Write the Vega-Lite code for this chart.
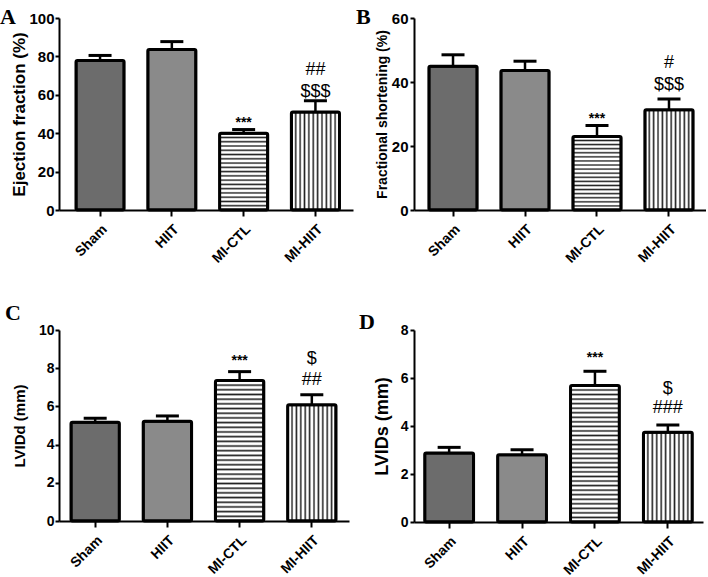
{
  "$schema": "https://vega.github.io/schema/vega-lite/v6.json",
  "background": "white",
  "padding": {"left": 0, "top": 6, "right": 0, "bottom": 0},
  "datasets": {
    "A": [
      {"group": "Sham", "value": 77.9, "upper": 80.5, "star": "", "sig": ""},
      {"group": "HIIT", "value": 83.6, "upper": 87.7, "star": "", "sig": ""},
      {"group": "MI-CTL", "value": 40.0, "upper": 41.9, "star": "***", "sig": ""},
      {"group": "MI-HIIT", "value": 51.1, "upper": 56.9, "star": "", "sig": "##|$$$"}
    ],
    "B": [
      {"group": "Sham", "value": 44.9, "upper": 48.5, "star": "", "sig": ""},
      {"group": "HIIT", "value": 43.6, "upper": 46.5, "star": "", "sig": ""},
      {"group": "MI-CTL", "value": 23.0, "upper": 26.4, "star": "***", "sig": ""},
      {"group": "MI-HIIT", "value": 31.3, "upper": 34.7, "star": "", "sig": "#|$$$"}
    ],
    "C": [
      {"group": "Sham", "value": 5.17, "upper": 5.38, "star": "", "sig": ""},
      {"group": "HIIT", "value": 5.22, "upper": 5.5, "star": "", "sig": ""},
      {"group": "MI-CTL", "value": 7.36, "upper": 7.82, "star": "***", "sig": ""},
      {"group": "MI-HIIT", "value": 6.09, "upper": 6.61, "star": "", "sig": "$|##"}
    ],
    "D": [
      {"group": "Sham", "value": 2.87, "upper": 3.11, "star": "", "sig": ""},
      {"group": "HIIT", "value": 2.8, "upper": 3.01, "star": "", "sig": ""},
      {"group": "MI-CTL", "value": 5.69, "upper": 6.28, "star": "***", "sig": ""},
      {"group": "MI-HIIT", "value": 3.74, "upper": 4.04, "star": "", "sig": "$|###"}
    ]
  },
  "columns": 2,
  "align": "each",
  "spacing": {"row": 36, "column": 3},
  "concat": [
        {
          "data": {"name": "A"},
          "width": 294, "height": 192,
          "title": {"text": "A", "font": "Liberation Serif", "fontSize": 22, "fontWeight": "bold", "color": "black", "anchor": "start", "frame": "group", "dx": -59, "offset": -18},
          "encoding": {
            "x": {"field": "group", "type": "nominal", "sort": null, "title": null,
                  "scale": {"domain": ["Sham", "HIIT", "MI-CTL", "MI-HIIT"], "paddingInner": 0.33, "paddingOuter": 0.2125, "align": 0.557}}
          },
          "layer": [
            {"mark": {"type": "bar", "stroke": "black", "strokeWidth": 3, "cornerRadius": 1.5},
             "encoding": {"y": {"field": "value", "type": "quantitative", "scale": {"domain": [0, 100]},
                                "axis": {"title": "Ejection fraction (%)", "values": [0, 20, 40, 60, 80, 100], "tickCount": 20, "format": "d", "titleFontSize": 17, "labelFontSize": 15, "titleX": -31, "labelPadding": 1}},
                          "fill": {"condition": [
                            {"test": "datum.group === 'Sham'", "value": "#6c6c6c"},
                            {"test": "datum.group === 'HIIT'", "value": "#8a8a8a"},
                            {"test": "datum.group === 'MI-CTL'", "value": {"gradient": "linear", "x1": 0, "y1": 0, "x2": 0, "y2": 1, "stops": [
        {"offset": 0, "color": "#222"}, {"offset": 0.0194, "color": "#fff"}, {"offset": 0.0361, "color": "#fff"},
        {"offset": 0.0556, "color": "#222"}, {"offset": 0.075, "color": "#fff"}, {"offset": 0.0917, "color": "#fff"},
        {"offset": 0.1111, "color": "#222"}, {"offset": 0.1305, "color": "#fff"}, {"offset": 0.1472, "color": "#fff"},
        {"offset": 0.1667, "color": "#222"}, {"offset": 0.1861, "color": "#fff"}, {"offset": 0.2028, "color": "#fff"},
        {"offset": 0.2222, "color": "#222"}, {"offset": 0.2416, "color": "#fff"}, {"offset": 0.2583, "color": "#fff"},
        {"offset": 0.2778, "color": "#222"}, {"offset": 0.2972, "color": "#fff"}, {"offset": 0.3139, "color": "#fff"},
        {"offset": 0.3333, "color": "#222"}, {"offset": 0.3527, "color": "#fff"}, {"offset": 0.3694, "color": "#fff"},
        {"offset": 0.3889, "color": "#222"}, {"offset": 0.4083, "color": "#fff"}, {"offset": 0.425, "color": "#fff"},
        {"offset": 0.4444, "color": "#222"}, {"offset": 0.4638, "color": "#fff"}, {"offset": 0.4805, "color": "#fff"},
        {"offset": 0.5, "color": "#222"}, {"offset": 0.5194, "color": "#fff"}, {"offset": 0.5361, "color": "#fff"},
        {"offset": 0.5556, "color": "#222"}, {"offset": 0.575, "color": "#fff"}, {"offset": 0.5917, "color": "#fff"},
        {"offset": 0.6111, "color": "#222"}, {"offset": 0.6305, "color": "#fff"}, {"offset": 0.6472, "color": "#fff"},
        {"offset": 0.6667, "color": "#222"}, {"offset": 0.6861, "color": "#fff"}, {"offset": 0.7028, "color": "#fff"},
        {"offset": 0.7222, "color": "#222"}, {"offset": 0.7416, "color": "#fff"}, {"offset": 0.7583, "color": "#fff"},
        {"offset": 0.7778, "color": "#222"}, {"offset": 0.7972, "color": "#fff"}, {"offset": 0.8139, "color": "#fff"},
        {"offset": 0.8333, "color": "#222"}, {"offset": 0.8527, "color": "#fff"}, {"offset": 0.8694, "color": "#fff"},
        {"offset": 0.8889, "color": "#222"}, {"offset": 0.9083, "color": "#fff"}, {"offset": 0.925, "color": "#fff"},
        {"offset": 0.9444, "color": "#222"}, {"offset": 0.9638, "color": "#fff"}, {"offset": 0.9805, "color": "#fff"},
        {"offset": 1, "color": "#222"}]}},
                            {"test": "datum.group === 'MI-HIIT'", "value": {"gradient": "linear", "x1": 0, "y1": 0, "x2": 1, "y2": 0, "stops": [
        {"offset": 0, "color": "#222"}, {"offset": 0.0318, "color": "#fff"}, {"offset": 0.0591, "color": "#fff"},
        {"offset": 0.0909, "color": "#222"}, {"offset": 0.1227, "color": "#fff"}, {"offset": 0.15, "color": "#fff"},
        {"offset": 0.1818, "color": "#222"}, {"offset": 0.2136, "color": "#fff"}, {"offset": 0.2409, "color": "#fff"},
        {"offset": 0.2727, "color": "#222"}, {"offset": 0.3045, "color": "#fff"}, {"offset": 0.3318, "color": "#fff"},
        {"offset": 0.3636, "color": "#222"}, {"offset": 0.3954, "color": "#fff"}, {"offset": 0.4227, "color": "#fff"},
        {"offset": 0.4545, "color": "#222"}, {"offset": 0.4863, "color": "#fff"}, {"offset": 0.5136, "color": "#fff"},
        {"offset": 0.5455, "color": "#222"}, {"offset": 0.5773, "color": "#fff"}, {"offset": 0.6046, "color": "#fff"},
        {"offset": 0.6364, "color": "#222"}, {"offset": 0.6682, "color": "#fff"}, {"offset": 0.6955, "color": "#fff"},
        {"offset": 0.7273, "color": "#222"}, {"offset": 0.7591, "color": "#fff"}, {"offset": 0.7864, "color": "#fff"},
        {"offset": 0.8182, "color": "#222"}, {"offset": 0.85, "color": "#fff"}, {"offset": 0.8773, "color": "#fff"},
        {"offset": 0.9091, "color": "#222"}, {"offset": 0.9409, "color": "#fff"}, {"offset": 0.9682, "color": "#fff"},
        {"offset": 1, "color": "#222"}]}}
                          ], "value": "white"}}},
            {"mark": {"type": "rule", "color": "black", "strokeWidth": 2.5},
             "encoding": {"y": {"field": "value", "type": "quantitative"}, "y2": {"field": "upper"}}},
            {"mark": {"type": "tick", "color": "black", "thickness": 3, "size": 23, "opacity": 1},
             "encoding": {"y": {"field": "upper", "type": "quantitative"}}},
            {"transform": [{"filter": "datum.star !== ''"}],
             "mark": {"type": "text", "font": "Liberation Sans", "fontSize": 14, "fontWeight": "bold", "baseline": "alphabetic", "dy": -3, "color": "black"},
             "encoding": {"y": {"field": "upper", "type": "quantitative"}, "text": {"field": "star"}}},
            {"transform": [{"filter": "datum.sig !== ''"}],
             "mark": {"type": "text", "font": "Liberation Sans", "fontSize": 18, "baseline": "alphabetic", "lineBreak": "|", "lineHeight": 22, "dy": -26, "color": "black"},
             "encoding": {"y": {"field": "upper", "type": "quantitative"}, "text": {"field": "sig"}}}
          ]
        },
        {
          "data": {"name": "B"},
          "width": 292, "height": 192,
          "title": {"text": "B", "font": "Liberation Serif", "fontSize": 22, "fontWeight": "bold", "color": "black", "anchor": "start", "frame": "group", "dx": -58, "offset": -18},
          "encoding": {
            "x": {"field": "group", "type": "nominal", "sort": null, "title": null,
                  "scale": {"domain": ["Sham", "HIIT", "MI-CTL", "MI-HIIT"], "paddingInner": 0.33, "paddingOuter": 0.193, "align": 0.536}}
          },
          "layer": [
            {"mark": {"type": "bar", "stroke": "black", "strokeWidth": 3, "cornerRadius": 1.5},
             "encoding": {"y": {"field": "value", "type": "quantitative", "scale": {"domain": [0, 60]},
                                "axis": {"title": "Fractional shortening (%)", "values": [0, 20, 40, 60], "tickCount": 20, "format": "d", "titleFontSize": 14, "labelFontSize": 15, "titleX": -25, "labelPadding": 2}},
                          "fill": {"condition": [
                            {"test": "datum.group === 'Sham'", "value": "#6c6c6c"},
                            {"test": "datum.group === 'HIIT'", "value": "#8a8a8a"},
                            {"test": "datum.group === 'MI-CTL'", "value": {"gradient": "linear", "x1": 0, "y1": 0, "x2": 0, "y2": 1, "stops": [
        {"offset": 0, "color": "#222"}, {"offset": 0.0194, "color": "#fff"}, {"offset": 0.0361, "color": "#fff"},
        {"offset": 0.0556, "color": "#222"}, {"offset": 0.075, "color": "#fff"}, {"offset": 0.0917, "color": "#fff"},
        {"offset": 0.1111, "color": "#222"}, {"offset": 0.1305, "color": "#fff"}, {"offset": 0.1472, "color": "#fff"},
        {"offset": 0.1667, "color": "#222"}, {"offset": 0.1861, "color": "#fff"}, {"offset": 0.2028, "color": "#fff"},
        {"offset": 0.2222, "color": "#222"}, {"offset": 0.2416, "color": "#fff"}, {"offset": 0.2583, "color": "#fff"},
        {"offset": 0.2778, "color": "#222"}, {"offset": 0.2972, "color": "#fff"}, {"offset": 0.3139, "color": "#fff"},
        {"offset": 0.3333, "color": "#222"}, {"offset": 0.3527, "color": "#fff"}, {"offset": 0.3694, "color": "#fff"},
        {"offset": 0.3889, "color": "#222"}, {"offset": 0.4083, "color": "#fff"}, {"offset": 0.425, "color": "#fff"},
        {"offset": 0.4444, "color": "#222"}, {"offset": 0.4638, "color": "#fff"}, {"offset": 0.4805, "color": "#fff"},
        {"offset": 0.5, "color": "#222"}, {"offset": 0.5194, "color": "#fff"}, {"offset": 0.5361, "color": "#fff"},
        {"offset": 0.5556, "color": "#222"}, {"offset": 0.575, "color": "#fff"}, {"offset": 0.5917, "color": "#fff"},
        {"offset": 0.6111, "color": "#222"}, {"offset": 0.6305, "color": "#fff"}, {"offset": 0.6472, "color": "#fff"},
        {"offset": 0.6667, "color": "#222"}, {"offset": 0.6861, "color": "#fff"}, {"offset": 0.7028, "color": "#fff"},
        {"offset": 0.7222, "color": "#222"}, {"offset": 0.7416, "color": "#fff"}, {"offset": 0.7583, "color": "#fff"},
        {"offset": 0.7778, "color": "#222"}, {"offset": 0.7972, "color": "#fff"}, {"offset": 0.8139, "color": "#fff"},
        {"offset": 0.8333, "color": "#222"}, {"offset": 0.8527, "color": "#fff"}, {"offset": 0.8694, "color": "#fff"},
        {"offset": 0.8889, "color": "#222"}, {"offset": 0.9083, "color": "#fff"}, {"offset": 0.925, "color": "#fff"},
        {"offset": 0.9444, "color": "#222"}, {"offset": 0.9638, "color": "#fff"}, {"offset": 0.9805, "color": "#fff"},
        {"offset": 1, "color": "#222"}]}},
                            {"test": "datum.group === 'MI-HIIT'", "value": {"gradient": "linear", "x1": 0, "y1": 0, "x2": 1, "y2": 0, "stops": [
        {"offset": 0, "color": "#222"}, {"offset": 0.0318, "color": "#fff"}, {"offset": 0.0591, "color": "#fff"},
        {"offset": 0.0909, "color": "#222"}, {"offset": 0.1227, "color": "#fff"}, {"offset": 0.15, "color": "#fff"},
        {"offset": 0.1818, "color": "#222"}, {"offset": 0.2136, "color": "#fff"}, {"offset": 0.2409, "color": "#fff"},
        {"offset": 0.2727, "color": "#222"}, {"offset": 0.3045, "color": "#fff"}, {"offset": 0.3318, "color": "#fff"},
        {"offset": 0.3636, "color": "#222"}, {"offset": 0.3954, "color": "#fff"}, {"offset": 0.4227, "color": "#fff"},
        {"offset": 0.4545, "color": "#222"}, {"offset": 0.4863, "color": "#fff"}, {"offset": 0.5136, "color": "#fff"},
        {"offset": 0.5455, "color": "#222"}, {"offset": 0.5773, "color": "#fff"}, {"offset": 0.6046, "color": "#fff"},
        {"offset": 0.6364, "color": "#222"}, {"offset": 0.6682, "color": "#fff"}, {"offset": 0.6955, "color": "#fff"},
        {"offset": 0.7273, "color": "#222"}, {"offset": 0.7591, "color": "#fff"}, {"offset": 0.7864, "color": "#fff"},
        {"offset": 0.8182, "color": "#222"}, {"offset": 0.85, "color": "#fff"}, {"offset": 0.8773, "color": "#fff"},
        {"offset": 0.9091, "color": "#222"}, {"offset": 0.9409, "color": "#fff"}, {"offset": 0.9682, "color": "#fff"},
        {"offset": 1, "color": "#222"}]}}
                          ], "value": "white"}}},
            {"mark": {"type": "rule", "color": "black", "strokeWidth": 2.5},
             "encoding": {"y": {"field": "value", "type": "quantitative"}, "y2": {"field": "upper"}}},
            {"mark": {"type": "tick", "color": "black", "thickness": 3, "size": 23, "opacity": 1},
             "encoding": {"y": {"field": "upper", "type": "quantitative"}}},
            {"transform": [{"filter": "datum.star !== ''"}],
             "mark": {"type": "text", "font": "Liberation Sans", "fontSize": 14, "fontWeight": "bold", "baseline": "alphabetic", "dy": -3, "color": "black"},
             "encoding": {"y": {"field": "upper", "type": "quantitative"}, "text": {"field": "star"}}},
            {"transform": [{"filter": "datum.sig !== ''"}],
             "mark": {"type": "text", "font": "Liberation Sans", "fontSize": 18, "baseline": "alphabetic", "lineBreak": "|", "lineHeight": 22, "dy": -31, "color": "black"},
             "encoding": {"y": {"field": "upper", "type": "quantitative"}, "text": {"field": "sig"}}}
          ]
        },
        {
          "data": {"name": "C"},
          "width": 290, "height": 191,
          "title": {"text": "C", "font": "Liberation Serif", "fontSize": 22, "fontWeight": "bold", "color": "black", "anchor": "start", "frame": "group", "dx": -54, "offset": -2},
          "encoding": {
            "x": {"field": "group", "type": "nominal", "sort": null, "title": null,
                  "scale": {"domain": ["Sham", "HIIT", "MI-CTL", "MI-HIIT"], "paddingInner": 0.33, "paddingOuter": 0.173, "align": 0.48}}
          },
          "layer": [
            {"mark": {"type": "bar", "stroke": "black", "strokeWidth": 3, "cornerRadius": 1.5},
             "encoding": {"y": {"field": "value", "type": "quantitative", "scale": {"domain": [0, 10]},
                                "axis": {"title": "LVIDd (mm)", "values": [0, 2, 4, 6, 8, 10], "tickCount": 20, "format": "d", "titleFontSize": 15, "labelFontSize": 14, "titleX": -32, "labelPadding": 1}},
                          "fill": {"condition": [
                            {"test": "datum.group === 'Sham'", "value": "#6c6c6c"},
                            {"test": "datum.group === 'HIIT'", "value": "#8a8a8a"},
                            {"test": "datum.group === 'MI-CTL'", "value": {"gradient": "linear", "x1": 0, "y1": 0, "x2": 0, "y2": 1, "stops": [
        {"offset": 0, "color": "#222"}, {"offset": 0.0117, "color": "#fff"}, {"offset": 0.0217, "color": "#fff"},
        {"offset": 0.0333, "color": "#222"}, {"offset": 0.045, "color": "#fff"}, {"offset": 0.055, "color": "#fff"},
        {"offset": 0.0667, "color": "#222"}, {"offset": 0.0783, "color": "#fff"}, {"offset": 0.0883, "color": "#fff"},
        {"offset": 0.1, "color": "#222"}, {"offset": 0.1117, "color": "#fff"}, {"offset": 0.1217, "color": "#fff"},
        {"offset": 0.1333, "color": "#222"}, {"offset": 0.145, "color": "#fff"}, {"offset": 0.155, "color": "#fff"},
        {"offset": 0.1667, "color": "#222"}, {"offset": 0.1783, "color": "#fff"}, {"offset": 0.1883, "color": "#fff"},
        {"offset": 0.2, "color": "#222"}, {"offset": 0.2117, "color": "#fff"}, {"offset": 0.2217, "color": "#fff"},
        {"offset": 0.2333, "color": "#222"}, {"offset": 0.245, "color": "#fff"}, {"offset": 0.255, "color": "#fff"},
        {"offset": 0.2667, "color": "#222"}, {"offset": 0.2783, "color": "#fff"}, {"offset": 0.2883, "color": "#fff"},
        {"offset": 0.3, "color": "#222"}, {"offset": 0.3117, "color": "#fff"}, {"offset": 0.3217, "color": "#fff"},
        {"offset": 0.3333, "color": "#222"}, {"offset": 0.345, "color": "#fff"}, {"offset": 0.355, "color": "#fff"},
        {"offset": 0.3667, "color": "#222"}, {"offset": 0.3783, "color": "#fff"}, {"offset": 0.3883, "color": "#fff"},
        {"offset": 0.4, "color": "#222"}, {"offset": 0.4117, "color": "#fff"}, {"offset": 0.4217, "color": "#fff"},
        {"offset": 0.4333, "color": "#222"}, {"offset": 0.445, "color": "#fff"}, {"offset": 0.455, "color": "#fff"},
        {"offset": 0.4667, "color": "#222"}, {"offset": 0.4783, "color": "#fff"}, {"offset": 0.4883, "color": "#fff"},
        {"offset": 0.5, "color": "#222"}, {"offset": 0.5117, "color": "#fff"}, {"offset": 0.5217, "color": "#fff"},
        {"offset": 0.5333, "color": "#222"}, {"offset": 0.545, "color": "#fff"}, {"offset": 0.555, "color": "#fff"},
        {"offset": 0.5667, "color": "#222"}, {"offset": 0.5783, "color": "#fff"}, {"offset": 0.5883, "color": "#fff"},
        {"offset": 0.6, "color": "#222"}, {"offset": 0.6117, "color": "#fff"}, {"offset": 0.6217, "color": "#fff"},
        {"offset": 0.6333, "color": "#222"}, {"offset": 0.645, "color": "#fff"}, {"offset": 0.655, "color": "#fff"},
        {"offset": 0.6667, "color": "#222"}, {"offset": 0.6783, "color": "#fff"}, {"offset": 0.6883, "color": "#fff"},
        {"offset": 0.7, "color": "#222"}, {"offset": 0.7117, "color": "#fff"}, {"offset": 0.7217, "color": "#fff"},
        {"offset": 0.7333, "color": "#222"}, {"offset": 0.745, "color": "#fff"}, {"offset": 0.755, "color": "#fff"},
        {"offset": 0.7667, "color": "#222"}, {"offset": 0.7783, "color": "#fff"}, {"offset": 0.7883, "color": "#fff"},
        {"offset": 0.8, "color": "#222"}, {"offset": 0.8117, "color": "#fff"}, {"offset": 0.8217, "color": "#fff"},
        {"offset": 0.8333, "color": "#222"}, {"offset": 0.845, "color": "#fff"}, {"offset": 0.855, "color": "#fff"},
        {"offset": 0.8667, "color": "#222"}, {"offset": 0.8783, "color": "#fff"}, {"offset": 0.8883, "color": "#fff"},
        {"offset": 0.9, "color": "#222"}, {"offset": 0.9117, "color": "#fff"}, {"offset": 0.9217, "color": "#fff"},
        {"offset": 0.9333, "color": "#222"}, {"offset": 0.945, "color": "#fff"}, {"offset": 0.955, "color": "#fff"},
        {"offset": 0.9667, "color": "#222"}, {"offset": 0.9783, "color": "#fff"}, {"offset": 0.9883, "color": "#fff"},
        {"offset": 1, "color": "#222"}]}},
                            {"test": "datum.group === 'MI-HIIT'", "value": {"gradient": "linear", "x1": 0, "y1": 0, "x2": 1, "y2": 0, "stops": [
        {"offset": 0, "color": "#222"}, {"offset": 0.0318, "color": "#fff"}, {"offset": 0.0591, "color": "#fff"},
        {"offset": 0.0909, "color": "#222"}, {"offset": 0.1227, "color": "#fff"}, {"offset": 0.15, "color": "#fff"},
        {"offset": 0.1818, "color": "#222"}, {"offset": 0.2136, "color": "#fff"}, {"offset": 0.2409, "color": "#fff"},
        {"offset": 0.2727, "color": "#222"}, {"offset": 0.3045, "color": "#fff"}, {"offset": 0.3318, "color": "#fff"},
        {"offset": 0.3636, "color": "#222"}, {"offset": 0.3954, "color": "#fff"}, {"offset": 0.4227, "color": "#fff"},
        {"offset": 0.4545, "color": "#222"}, {"offset": 0.4863, "color": "#fff"}, {"offset": 0.5136, "color": "#fff"},
        {"offset": 0.5455, "color": "#222"}, {"offset": 0.5773, "color": "#fff"}, {"offset": 0.6046, "color": "#fff"},
        {"offset": 0.6364, "color": "#222"}, {"offset": 0.6682, "color": "#fff"}, {"offset": 0.6955, "color": "#fff"},
        {"offset": 0.7273, "color": "#222"}, {"offset": 0.7591, "color": "#fff"}, {"offset": 0.7864, "color": "#fff"},
        {"offset": 0.8182, "color": "#222"}, {"offset": 0.85, "color": "#fff"}, {"offset": 0.8773, "color": "#fff"},
        {"offset": 0.9091, "color": "#222"}, {"offset": 0.9409, "color": "#fff"}, {"offset": 0.9682, "color": "#fff"},
        {"offset": 1, "color": "#222"}]}}
                          ], "value": "white"}}},
            {"mark": {"type": "rule", "color": "black", "strokeWidth": 2.5},
             "encoding": {"y": {"field": "value", "type": "quantitative"}, "y2": {"field": "upper"}}},
            {"mark": {"type": "tick", "color": "black", "thickness": 3, "size": 23, "opacity": 1},
             "encoding": {"y": {"field": "upper", "type": "quantitative"}}},
            {"transform": [{"filter": "datum.star !== ''"}],
             "mark": {"type": "text", "font": "Liberation Sans", "fontSize": 14, "fontWeight": "bold", "baseline": "alphabetic", "dy": -7, "color": "black"},
             "encoding": {"y": {"field": "upper", "type": "quantitative"}, "text": {"field": "star"}}},
            {"transform": [{"filter": "datum.sig !== ''"}],
             "mark": {"type": "text", "font": "Liberation Sans", "fontSize": 18, "baseline": "alphabetic", "lineBreak": "|", "lineHeight": 21, "dy": -31, "color": "black"},
             "encoding": {"y": {"field": "upper", "type": "quantitative"}, "text": {"field": "sig"}}}
          ]
        },
        {
          "data": {"name": "D"},
          "width": 289, "height": 192,
          "title": {"text": "D", "font": "Liberation Serif", "fontSize": 22, "fontWeight": "bold", "color": "black", "anchor": "start", "frame": "group", "dx": -55, "offset": -11},
          "encoding": {
            "x": {"field": "group", "type": "nominal", "sort": null, "title": null,
                  "scale": {"domain": ["Sham", "HIIT", "MI-CTL", "MI-HIIT"], "paddingInner": 0.33, "paddingOuter": 0.147, "align": 0.5}}
          },
          "layer": [
            {"mark": {"type": "bar", "stroke": "black", "strokeWidth": 3, "cornerRadius": 1.5},
             "encoding": {"y": {"field": "value", "type": "quantitative", "scale": {"domain": [0, 8]},
                                "axis": {"title": "LVIDs (mm)", "values": [0, 2, 4, 6, 8], "tickCount": 20, "format": "d", "titleFontSize": 18, "labelFontSize": 14, "titleX": -23, "labelPadding": 2}},
                          "fill": {"condition": [
                            {"test": "datum.group === 'Sham'", "value": "#6c6c6c"},
                            {"test": "datum.group === 'HIIT'", "value": "#8a8a8a"},
                            {"test": "datum.group === 'MI-CTL'", "value": {"gradient": "linear", "x1": 0, "y1": 0, "x2": 0, "y2": 1, "stops": [
        {"offset": 0, "color": "#222"}, {"offset": 0.0117, "color": "#fff"}, {"offset": 0.0217, "color": "#fff"},
        {"offset": 0.0333, "color": "#222"}, {"offset": 0.045, "color": "#fff"}, {"offset": 0.055, "color": "#fff"},
        {"offset": 0.0667, "color": "#222"}, {"offset": 0.0783, "color": "#fff"}, {"offset": 0.0883, "color": "#fff"},
        {"offset": 0.1, "color": "#222"}, {"offset": 0.1117, "color": "#fff"}, {"offset": 0.1217, "color": "#fff"},
        {"offset": 0.1333, "color": "#222"}, {"offset": 0.145, "color": "#fff"}, {"offset": 0.155, "color": "#fff"},
        {"offset": 0.1667, "color": "#222"}, {"offset": 0.1783, "color": "#fff"}, {"offset": 0.1883, "color": "#fff"},
        {"offset": 0.2, "color": "#222"}, {"offset": 0.2117, "color": "#fff"}, {"offset": 0.2217, "color": "#fff"},
        {"offset": 0.2333, "color": "#222"}, {"offset": 0.245, "color": "#fff"}, {"offset": 0.255, "color": "#fff"},
        {"offset": 0.2667, "color": "#222"}, {"offset": 0.2783, "color": "#fff"}, {"offset": 0.2883, "color": "#fff"},
        {"offset": 0.3, "color": "#222"}, {"offset": 0.3117, "color": "#fff"}, {"offset": 0.3217, "color": "#fff"},
        {"offset": 0.3333, "color": "#222"}, {"offset": 0.345, "color": "#fff"}, {"offset": 0.355, "color": "#fff"},
        {"offset": 0.3667, "color": "#222"}, {"offset": 0.3783, "color": "#fff"}, {"offset": 0.3883, "color": "#fff"},
        {"offset": 0.4, "color": "#222"}, {"offset": 0.4117, "color": "#fff"}, {"offset": 0.4217, "color": "#fff"},
        {"offset": 0.4333, "color": "#222"}, {"offset": 0.445, "color": "#fff"}, {"offset": 0.455, "color": "#fff"},
        {"offset": 0.4667, "color": "#222"}, {"offset": 0.4783, "color": "#fff"}, {"offset": 0.4883, "color": "#fff"},
        {"offset": 0.5, "color": "#222"}, {"offset": 0.5117, "color": "#fff"}, {"offset": 0.5217, "color": "#fff"},
        {"offset": 0.5333, "color": "#222"}, {"offset": 0.545, "color": "#fff"}, {"offset": 0.555, "color": "#fff"},
        {"offset": 0.5667, "color": "#222"}, {"offset": 0.5783, "color": "#fff"}, {"offset": 0.5883, "color": "#fff"},
        {"offset": 0.6, "color": "#222"}, {"offset": 0.6117, "color": "#fff"}, {"offset": 0.6217, "color": "#fff"},
        {"offset": 0.6333, "color": "#222"}, {"offset": 0.645, "color": "#fff"}, {"offset": 0.655, "color": "#fff"},
        {"offset": 0.6667, "color": "#222"}, {"offset": 0.6783, "color": "#fff"}, {"offset": 0.6883, "color": "#fff"},
        {"offset": 0.7, "color": "#222"}, {"offset": 0.7117, "color": "#fff"}, {"offset": 0.7217, "color": "#fff"},
        {"offset": 0.7333, "color": "#222"}, {"offset": 0.745, "color": "#fff"}, {"offset": 0.755, "color": "#fff"},
        {"offset": 0.7667, "color": "#222"}, {"offset": 0.7783, "color": "#fff"}, {"offset": 0.7883, "color": "#fff"},
        {"offset": 0.8, "color": "#222"}, {"offset": 0.8117, "color": "#fff"}, {"offset": 0.8217, "color": "#fff"},
        {"offset": 0.8333, "color": "#222"}, {"offset": 0.845, "color": "#fff"}, {"offset": 0.855, "color": "#fff"},
        {"offset": 0.8667, "color": "#222"}, {"offset": 0.8783, "color": "#fff"}, {"offset": 0.8883, "color": "#fff"},
        {"offset": 0.9, "color": "#222"}, {"offset": 0.9117, "color": "#fff"}, {"offset": 0.9217, "color": "#fff"},
        {"offset": 0.9333, "color": "#222"}, {"offset": 0.945, "color": "#fff"}, {"offset": 0.955, "color": "#fff"},
        {"offset": 0.9667, "color": "#222"}, {"offset": 0.9783, "color": "#fff"}, {"offset": 0.9883, "color": "#fff"},
        {"offset": 1, "color": "#222"}]}},
                            {"test": "datum.group === 'MI-HIIT'", "value": {"gradient": "linear", "x1": 0, "y1": 0, "x2": 1, "y2": 0, "stops": [
        {"offset": 0, "color": "#222"}, {"offset": 0.0318, "color": "#fff"}, {"offset": 0.0591, "color": "#fff"},
        {"offset": 0.0909, "color": "#222"}, {"offset": 0.1227, "color": "#fff"}, {"offset": 0.15, "color": "#fff"},
        {"offset": 0.1818, "color": "#222"}, {"offset": 0.2136, "color": "#fff"}, {"offset": 0.2409, "color": "#fff"},
        {"offset": 0.2727, "color": "#222"}, {"offset": 0.3045, "color": "#fff"}, {"offset": 0.3318, "color": "#fff"},
        {"offset": 0.3636, "color": "#222"}, {"offset": 0.3954, "color": "#fff"}, {"offset": 0.4227, "color": "#fff"},
        {"offset": 0.4545, "color": "#222"}, {"offset": 0.4863, "color": "#fff"}, {"offset": 0.5136, "color": "#fff"},
        {"offset": 0.5455, "color": "#222"}, {"offset": 0.5773, "color": "#fff"}, {"offset": 0.6046, "color": "#fff"},
        {"offset": 0.6364, "color": "#222"}, {"offset": 0.6682, "color": "#fff"}, {"offset": 0.6955, "color": "#fff"},
        {"offset": 0.7273, "color": "#222"}, {"offset": 0.7591, "color": "#fff"}, {"offset": 0.7864, "color": "#fff"},
        {"offset": 0.8182, "color": "#222"}, {"offset": 0.85, "color": "#fff"}, {"offset": 0.8773, "color": "#fff"},
        {"offset": 0.9091, "color": "#222"}, {"offset": 0.9409, "color": "#fff"}, {"offset": 0.9682, "color": "#fff"},
        {"offset": 1, "color": "#222"}]}}
                          ], "value": "white"}}},
            {"mark": {"type": "rule", "color": "black", "strokeWidth": 2.5},
             "encoding": {"y": {"field": "value", "type": "quantitative"}, "y2": {"field": "upper"}}},
            {"mark": {"type": "tick", "color": "black", "thickness": 3, "size": 23, "opacity": 1},
             "encoding": {"y": {"field": "upper", "type": "quantitative"}}},
            {"transform": [{"filter": "datum.star !== ''"}],
             "mark": {"type": "text", "font": "Liberation Sans", "fontSize": 14, "fontWeight": "bold", "baseline": "alphabetic", "dy": -9, "color": "black"},
             "encoding": {"y": {"field": "upper", "type": "quantitative"}, "text": {"field": "star"}}},
            {"transform": [{"filter": "datum.sig !== ''"}],
             "mark": {"type": "text", "font": "Liberation Sans", "fontSize": 18, "baseline": "alphabetic", "lineBreak": "|", "lineHeight": 19, "dy": -31, "color": "black"},
             "encoding": {"y": {"field": "upper", "type": "quantitative"}, "text": {"field": "sig"}}}
          ]
        }
  ],
  "config": {
    "view": {"stroke": null},
    "font": "Liberation Sans",
    "axis": {"domainColor": "black", "domainWidth": 2, "tickColor": "black", "tickWidth": 2, "tickSize": 5,
             "labelColor": "black", "titleColor": "black", "labelFont": "Liberation Sans", "titleFont": "Liberation Sans",
             "labelFontWeight": "bold", "titleFontWeight": "bold", "grid": false, "labelOverlap": false},
    "axisY": {"tickSize": 4},
    "axisX": {"labelAngle": -45, "labelFontSize": 14, "tickSize": 6, "labelAlign": "right", "labelBaseline": "top", "labelPadding": 6}
  }
}
